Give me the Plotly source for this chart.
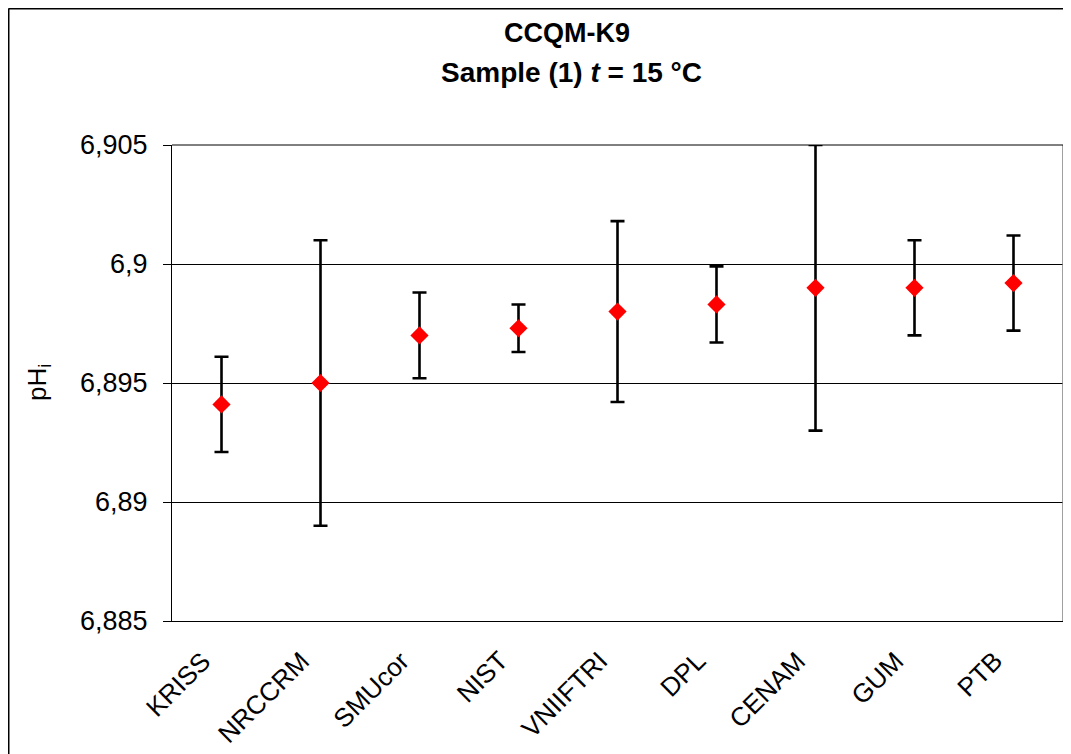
import plotly.graph_objects as go

categories = ["KRISS", "NRCCRM", "SMUcor", "NIST", "VNIIFTRI", "DPL", "CENAM", "GUM", "PTB"]
ph_values = [6.8941, 6.8950, 6.8970, 6.8973, 6.8980, 6.8983, 6.8990, 6.8990, 6.8992]
uncertainty = [0.0020, 0.0060, 0.0018, 0.0010, 0.0038, 0.0016, 0.0060, 0.0020, 0.0020]
y_ticks = [6.885, 6.89, 6.895, 6.9, 6.905]
y_tick_labels = ["6,885", "6,89", "6,895", "6,9", "6,905"]

# page has an 8px body margin; figure sized to fit the window
OFF = 8
W, H = 1063, 746
PL, PR, PT, PB = 172, 1063, 145, 621  # plot area in page pixels
L, T = PL - OFF, PT - OFF
R = W - (PR - OFF)
B = H - (PB - OFF)
FONT = "Liberation Sans, Arial, sans-serif"


def px(x):
    return (x - PL) / (PR - PL)


def py(y):
    return (PB - y) / (PB - PT)


fig = go.Figure()
fig.add_trace(go.Scatter(
    x=categories, y=ph_values, mode="markers",
    marker=dict(symbol="diamond", size=14, color="#ff0000", line=dict(width=0)),
    error_y=dict(type="data", array=uncertainty, visible=True,
                 color="black", thickness=2.6, width=7),
    showlegend=False, cliponaxis=False,
))

annotations = [
    dict(text="<b>CCQM-K9</b>", xref="paper", yref="paper",
         x=px(567), y=py(33.5), showarrow=False, xanchor="center", yanchor="middle",
         font=dict(size=27, family=FONT, color="black")),
    dict(text="<b>Sample (1) <i>t</i> = 15 °C</b>", xref="paper", yref="paper",
         x=px(571), y=py(72.5), showarrow=False, xanchor="center", yanchor="middle",
         font=dict(size=28, family=FONT, color="black")),
    dict(text="pH<sub>i</sub>", xref="paper", yref="paper",
         x=px(38), y=py(383), textangle=-90, showarrow=False,
         xanchor="center", yanchor="middle",
         font=dict(size=26, family=FONT, color="black")),
]
for c in categories:
    annotations.append(dict(
        text=c, xref="x", yref="paper", x=c, y=0, xshift=-2, yshift=-22,
        textangle=-45, showarrow=False, xanchor="right", yanchor="top",
        font=dict(size=26, family=FONT, color="black")))

fig.update_layout(
    width=W, height=H,
    margin=dict(l=L, r=R, t=T, b=B, autoexpand=False),
    paper_bgcolor="white", plot_bgcolor="white",
    font=dict(family=FONT, color="black"),
    xaxis=dict(
        showgrid=False, showline=True, linecolor="black", linewidth=1,
        ticks="", showticklabels=False,
        range=[-0.5, len(categories) - 0.5],
    ),
    yaxis=dict(
        range=[6.885, 6.905], tickvals=y_ticks, ticktext=y_tick_labels,
        showgrid=True, gridcolor="black", gridwidth=1,
        showline=True, linecolor="black", linewidth=1,
        ticks="outside", ticklen=8, tickcolor="black", tickwidth=1,
        ticklabelstandoff=10,
        tickfont=dict(size=27, family=FONT, color="black"),
        zeroline=False,
    ),
    shapes=[
        dict(type="line", xref="paper", yref="paper", x0=1, x1=1, y0=0, y1=1,
             line=dict(color="#808080", width=1.5)),
        dict(type="line", xref="paper", yref="paper", x0=0, x1=1, y0=1, y1=1,
             line=dict(color="black", width=1)),
        dict(type="line", xref="paper", yref="paper",
             x0=px(8.5), x1=px(1080), y0=py(8.5), y1=py(8.5),
             line=dict(color="black", width=2)),
        dict(type="line", xref="paper", yref="paper",
             x0=px(8.5), x1=px(8.5), y0=py(8.5), y1=py(770),
             line=dict(color="black", width=2)),
    ],
    annotations=annotations,
)

fig.write_html("out.html")
